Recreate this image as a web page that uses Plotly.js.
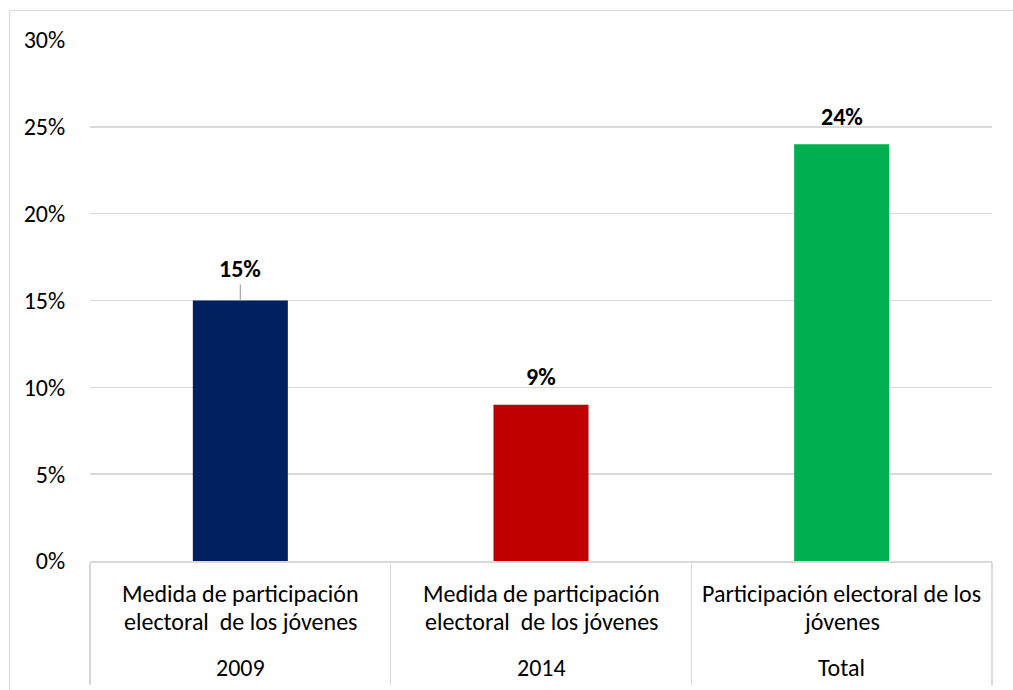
<!DOCTYPE html>
<html>
<head>
<meta charset="utf-8">
<script src="https://cdn.plot.ly/plotly-3.0.1.min.js"></script>
<style>
  html, body { margin: 0; padding: 0; background: #fff; }
  #frame { position: absolute; left: 9px; top: 10px; width: 1100px; height: 800px; border: 1.5px solid #d9d9d9; box-sizing: border-box; }
  #chart { position: absolute; left: 0; top: 0; width: 1013px; height: 690px; }
</style>
</head>
<body>
<div id="frame"></div>
<div id="chart"></div>
<script>
// Data
const years = ["2009", "2014", "Total"];
const groupLabels = [
  "Medida de participación<br>electoral  de los jóvenes",
  "Medida de participación<br>electoral  de los jóvenes",
  "Participación electoral de los<br>jóvenes"
];
const values = [0.15, 0.09, 0.24];
const barColors = ["#002060", "#C00000", "#00B050"];
const leaderLine = [true, false, false];

const FONT = "Carlito, Lato, 'Liberation Sans', sans-serif";
const FS = 24;

const trace = {
  type: "bar",
  x: years,
  y: values,
  width: 0.316,
  marker: { color: barColors },
  hoverinfo: "skip"
};

const annotations = [];
values.forEach((v, i) => {
  const txt = Math.round(v * 100) + "%";
  if (leaderLine[i]) {
    annotations.push({
      x: i, y: v, xref: "x", yref: "y",
      text: "<b>" + txt + "</b>",
      showarrow: true, arrowhead: 0, arrowwidth: 1.2, arrowcolor: "#a6a6a6",
      ax: 0, ay: -32, standoff: 0,
      font: { family: FONT, size: FS, color: "#000" }
    });
  } else {
    annotations.push({
      x: i, y: v, xref: "x", yref: "y",
      text: "<b>" + txt + "</b>",
      showarrow: false, yshift: 28, yanchor: "middle",
      font: { family: FONT, size: FS, color: "#000" }
    });
  }
  const lines = groupLabels[i].split("<br>");
  lines.forEach((ln, j) => {
    annotations.push({
      x: i, y: 0, xref: "x", yref: "paper",
      text: ln, showarrow: false, yanchor: "middle",
      yshift: -32 - 28 * j,
      font: { family: FONT, size: FS, color: "#000" }
    });
  });
  annotations.push({
    x: i, y: 0, xref: "x", yref: "paper",
    text: years[i], showarrow: false, yanchor: "middle",
    yshift: -106,
    font: { family: FONT, size: FS, color: "#000" }
  });
});

const layout = {
  width: 1013, height: 690,
  margin: { l: 90, r: 21, t: 40, b: 129 },
  paper_bgcolor: "rgba(0,0,0,0)",
  plot_bgcolor: "rgba(0,0,0,0)",
  showlegend: false,
  xaxis: {
    type: "category",
    autotypenumbers: "strict",
    categoryorder: "array",
    categoryarray: years,
    range: [-0.5, years.length - 0.5],
    autorange: false,
    showticklabels: false,
    showgrid: false,
    tickson: "boundaries",
    ticks: "outside",
    ticklen: 122,
    tickwidth: 1.5,
    tickcolor: "#d9d9d9",
    showline: true,
    linecolor: "#d9d9d9",
    linewidth: 1.5,
    zeroline: false,
    fixedrange: true
  },
  yaxis: {
    range: [0, 0.30],
    autorange: false,
    dtick: 0.05,
    tickformat: ".0%",
    showgrid: true,
    gridcolor: "#d9d9d9",
    gridwidth: 1.5,
    zeroline: false,
    showline: false,
    ticks: "outside",
    ticklen: 19,
    tickcolor: "rgba(0,0,0,0)",
    tickfont: { family: FONT, size: FS, color: "#000" },
    fixedrange: true
  },
  annotations: annotations
};

Plotly.newPlot("chart", [trace], layout, { displayModeBar: false, staticPlot: true });
</script>
</body>
</html>
